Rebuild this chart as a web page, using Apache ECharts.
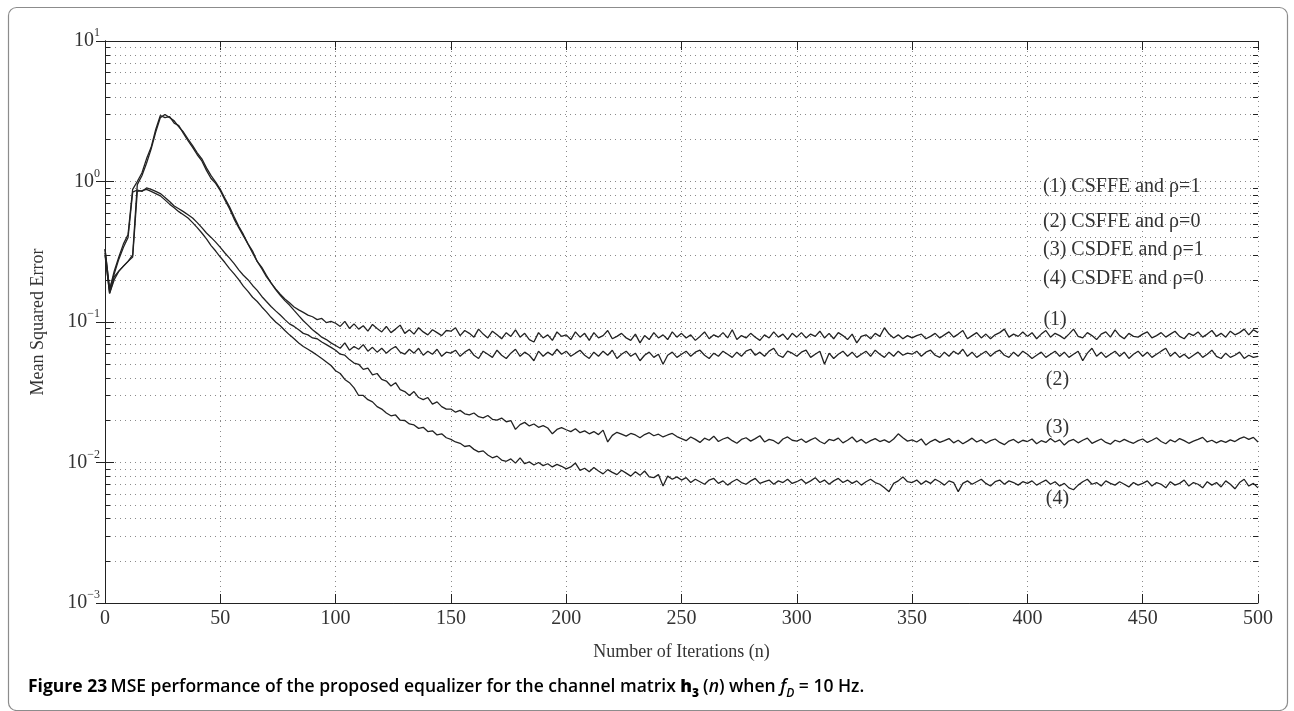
<!DOCTYPE html>
<html>
<head>
<meta charset="utf-8">
<script src="https://cdn.jsdelivr.net/npm/echarts@6/dist/echarts.min.js"></script>
<style>
html,body{margin:0;padding:0;background:#fff;}
#chart{width:1294px;height:711px;}
</style>
</head>
<body>
<div id="chart"></div>
<script>
// ---------- data ----------
const iterations = [
0,2,4,6,8,10,12,14,16,18,20,22,24,26,28,30,32,34,36,38,40,42,44,46,48,
50,52,54,56,58,60,62,64,66,68,70,72,74,76,78,80,82,84,86,88,90,92,94,96,98,
100,102,104,106,108,110,112,114,116,118,120,122,124,126,128,130,132,134,136,138,140,142,144,146,148,
150,152,154,156,158,160,162,164,166,168,170,172,174,176,178,180,182,184,186,188,190,192,194,196,198,
200,202,204,206,208,210,212,214,216,218,220,222,224,226,228,230,232,234,236,238,240,242,244,246,248,
250,252,254,256,258,260,262,264,266,268,270,272,274,276,278,280,282,284,286,288,290,292,294,296,298,
300,302,304,306,308,310,312,314,316,318,320,322,324,326,328,330,332,334,336,338,340,342,344,346,348,
350,352,354,356,358,360,362,364,366,368,370,372,374,376,378,380,382,384,386,388,390,392,394,396,398,
400,402,404,406,408,410,412,414,416,418,420,422,424,426,428,430,432,434,436,438,440,442,444,446,448,
450,452,454,456,458,460,462,464,466,468,470,472,474,476,478,480,482,484,486,488,490,492,494,496,498,
500];

const seriesNames = ['(1) CSFFE and ρ=1','(2) CSFFE and ρ=0','(3) CSDFE and ρ=1','(4) CSDFE and ρ=0'];
const curveTags = ['(1)','(2)','(3)','(4)'];

const mseCsffeRho1 = [
0.33,0.17,0.23,0.29,0.36,0.42,0.88,1.0,1.15,1.45,1.75,2.35,2.95,2.85,2.9,2.6,2.5,2.2,1.95,1.75,1.55,1.4,1.2,1.05,0.97,
0.86,0.74,0.64,0.54,0.47,0.41,0.36,0.32,0.27,0.245,0.215,0.19,0.172,0.158,0.146,0.137,0.128,0.122,0.117,0.112,0.109,0.104,0.106,0.099,0.101,
0.098,0.093,0.101,0.090,0.097,0.089,0.094,0.086,0.096,0.090,0.085,0.093,0.084,0.089,0.095,0.083,0.088,0.082,0.091,0.085,0.081,0.088,0.084,0.080,0.087,
0.086,0.091,0.080,0.087,0.083,0.078,0.089,0.082,0.077,0.086,0.081,0.076,0.084,0.079,0.088,0.078,0.083,0.075,0.072,0.084,0.077,0.081,0.074,0.085,0.079,
0.081,0.075,0.085,0.078,0.083,0.074,0.084,0.077,0.080,0.087,0.076,0.079,0.083,0.077,0.074,0.082,0.071,0.080,0.075,0.084,0.077,0.081,0.075,0.085,0.078,
0.083,0.077,0.081,0.074,0.079,0.085,0.076,0.081,0.078,0.084,0.077,0.088,0.075,0.080,0.077,0.083,0.078,0.074,0.081,0.077,0.085,0.078,0.082,0.075,0.083,
0.078,0.084,0.077,0.082,0.079,0.086,0.077,0.083,0.076,0.084,0.080,0.075,0.082,0.071,0.079,0.081,0.076,0.083,0.079,0.091,0.082,0.077,0.081,0.076,0.080,
0.077,0.080,0.082,0.076,0.079,0.083,0.077,0.081,0.085,0.078,0.082,0.087,0.076,0.080,0.084,0.077,0.082,0.076,0.081,0.084,0.089,0.078,0.082,0.079,0.085,
0.079,0.084,0.076,0.082,0.087,0.078,0.083,0.080,0.076,0.082,0.089,0.079,0.077,0.084,0.080,0.075,0.082,0.085,0.078,0.088,0.080,0.076,0.083,0.079,0.078,
0.082,0.085,0.077,0.080,0.084,0.078,0.082,0.086,0.079,0.076,0.083,0.080,0.085,0.078,0.082,0.087,0.079,0.083,0.078,0.086,0.081,0.084,0.089,0.081,0.088,
0.084];

const mseCsffeRho0 = [
0.30,0.16,0.21,0.23,0.25,0.27,0.30,0.95,1.1,1.35,1.70,2.25,2.85,3.0,2.85,2.7,2.45,2.25,2.0,1.8,1.6,1.45,1.25,1.1,0.99,
0.88,0.76,0.66,0.56,0.48,0.42,0.36,0.31,0.27,0.24,0.21,0.19,0.17,0.155,0.142,0.132,0.121,0.111,0.102,0.095,0.088,0.083,0.078,0.075,0.071,
0.068,0.065,0.071,0.063,0.067,0.064,0.069,0.062,0.066,0.061,0.065,0.060,0.064,0.067,0.061,0.059,0.064,0.060,0.065,0.058,0.062,0.059,0.064,0.057,0.061,
0.060,0.063,0.057,0.061,0.064,0.058,0.055,0.062,0.059,0.056,0.063,0.058,0.055,0.060,0.064,0.057,0.061,0.058,0.053,0.062,0.057,0.061,0.058,0.064,0.059,
0.062,0.057,0.060,0.063,0.058,0.055,0.061,0.057,0.062,0.058,0.063,0.055,0.059,0.062,0.057,0.060,0.053,0.058,0.061,0.056,0.059,0.050,0.058,0.061,0.056,
0.059,0.062,0.057,0.061,0.063,0.058,0.055,0.060,0.057,0.062,0.059,0.056,0.061,0.057,0.062,0.064,0.058,0.061,0.057,0.062,0.065,0.058,0.056,0.062,0.060,
0.057,0.061,0.063,0.056,0.059,0.062,0.050,0.060,0.055,0.059,0.062,0.057,0.061,0.056,0.059,0.062,0.057,0.063,0.059,0.056,0.061,0.057,0.062,0.058,0.060,
0.059,0.062,0.057,0.061,0.063,0.058,0.056,0.061,0.057,0.062,0.059,0.064,0.057,0.061,0.056,0.059,0.062,0.057,0.061,0.063,0.058,0.056,0.061,0.057,0.062,
0.059,0.055,0.058,0.061,0.056,0.059,0.062,0.057,0.061,0.056,0.059,0.062,0.053,0.060,0.065,0.057,0.061,0.056,0.059,0.062,0.057,0.061,0.055,0.059,0.062,
0.057,0.061,0.056,0.059,0.062,0.065,0.057,0.061,0.056,0.059,0.055,0.058,0.061,0.056,0.059,0.063,0.057,0.055,0.060,0.056,0.058,0.061,0.055,0.058,0.056,
0.057];

const mseCsdfeRho1 = [
0.33,0.17,0.22,0.28,0.34,0.40,0.84,0.87,0.85,0.90,0.88,0.85,0.82,0.77,0.72,0.67,0.64,0.61,0.58,0.55,0.51,0.47,0.43,0.40,0.37,
0.34,0.31,0.285,0.26,0.235,0.215,0.20,0.182,0.168,0.152,0.140,0.129,0.120,0.112,0.104,0.097,0.093,0.088,0.083,0.081,0.077,0.076,0.072,0.069,0.066,
0.063,0.059,0.058,0.054,0.051,0.050,0.046,0.047,0.042,0.043,0.039,0.038,0.035,0.037,0.033,0.032,0.030,0.032,0.029,0.028,0.029,0.026,0.027,0.025,0.024,
0.0240,0.0228,0.0235,0.0222,0.0218,0.0225,0.0212,0.0208,0.0216,0.0203,0.0200,0.0207,0.0195,0.0199,0.0172,0.0186,0.0193,0.0182,0.0188,0.0178,0.0183,0.0176,0.0160,0.0172,0.0177,
0.0171,0.0166,0.0174,0.0163,0.0168,0.0160,0.0166,0.0158,0.0170,0.0140,0.0156,0.0164,0.0159,0.0154,0.0161,0.0157,0.0150,0.0158,0.0163,0.0155,0.0159,0.0152,0.0157,0.0161,0.0153,
0.0148,0.0143,0.0152,0.0146,0.0139,0.0149,0.0144,0.0154,0.0141,0.0147,0.0151,0.0143,0.0137,0.0146,0.0150,0.0142,0.0148,0.0155,0.0140,0.0146,0.0143,0.0136,0.0147,0.0152,0.0144,
0.0142,0.0147,0.0139,0.0145,0.0150,0.0141,0.0136,0.0146,0.0143,0.0149,0.0138,0.0144,0.0152,0.0140,0.0146,0.0137,0.0143,0.0148,0.0141,0.0145,0.0139,0.0147,0.0160,0.0150,0.0142,
0.0145,0.0140,0.0147,0.0133,0.0141,0.0146,0.0139,0.0143,0.0148,0.0138,0.0144,0.0136,0.0142,0.0149,0.0140,0.0145,0.0137,0.0143,0.0147,0.0139,0.0134,0.0142,0.0146,0.0138,0.0144,
0.0141,0.0147,0.0136,0.0143,0.0139,0.0148,0.0140,0.0145,0.0133,0.0142,0.0146,0.0138,0.0144,0.0149,0.0137,0.0142,0.0147,0.0139,0.0135,0.0144,0.0140,0.0146,0.0141,0.0137,0.0143,
0.0147,0.0139,0.0144,0.0150,0.0141,0.0136,0.0145,0.0140,0.0148,0.0143,0.0137,0.0142,0.0146,0.0151,0.0140,0.0144,0.0138,0.0143,0.0139,0.0145,0.0141,0.0148,0.0152,0.0146,0.0151,
0.0140];

const mseCsdfeRho0 = [
0.31,0.16,0.20,0.23,0.25,0.27,0.29,0.85,0.86,0.88,0.85,0.82,0.79,0.74,0.69,0.65,0.61,0.58,0.55,0.51,0.47,0.43,0.39,0.35,0.32,
0.29,0.265,0.24,0.22,0.20,0.18,0.165,0.15,0.14,0.128,0.118,0.108,0.100,0.094,0.087,0.081,0.076,0.071,0.067,0.064,0.061,0.058,0.055,0.052,0.049,
0.045,0.043,0.039,0.037,0.034,0.030,0.030,0.028,0.027,0.025,0.024,0.0225,0.0215,0.0218,0.0200,0.0199,0.0188,0.0185,0.0175,0.0178,0.0166,0.0168,0.0157,0.0160,0.0150,
0.0146,0.0140,0.0137,0.0130,0.0132,0.0124,0.0119,0.0121,0.0113,0.0108,0.0111,0.0104,0.0102,0.0106,0.0099,0.0108,0.0098,0.0101,0.0096,0.0100,0.0095,0.0098,0.0093,0.0097,0.0094,
0.0090,0.0093,0.0099,0.0088,0.0091,0.0086,0.0092,0.0087,0.0083,0.0089,0.0085,0.0082,0.0088,0.0084,0.0080,0.0086,0.0081,0.0087,0.0079,0.0078,0.0082,0.0068,0.0080,0.0076,0.0079,
0.0075,0.0078,0.0072,0.0076,0.0073,0.0070,0.0075,0.0077,0.0071,0.0074,0.0069,0.0073,0.0076,0.0072,0.0070,0.0074,0.0077,0.0071,0.0073,0.0075,0.0070,0.0074,0.0072,0.0076,0.0071,
0.0073,0.0076,0.0071,0.0074,0.0078,0.0072,0.0075,0.0070,0.0074,0.0077,0.0072,0.0075,0.0071,0.0074,0.0069,0.0073,0.0076,0.0072,0.0070,0.0066,0.0062,0.0071,0.0074,0.0079,0.0073,
0.0072,0.0075,0.0070,0.0074,0.0071,0.0076,0.0073,0.0069,0.0074,0.0072,0.0062,0.0071,0.0074,0.0070,0.0073,0.0076,0.0071,0.0068,0.0073,0.0075,0.0070,0.0074,0.0072,0.0069,0.0073,
0.0071,0.0074,0.0069,0.0072,0.0075,0.0070,0.0073,0.0068,0.0071,0.0066,0.0064,0.0069,0.0073,0.0076,0.0070,0.0072,0.0068,0.0074,0.0071,0.0069,0.0073,0.0070,0.0067,0.0072,0.0069,
0.0071,0.0074,0.0068,0.0072,0.0070,0.0066,0.0073,0.0069,0.0071,0.0075,0.0068,0.0072,0.0070,0.0066,0.0073,0.0069,0.0072,0.0067,0.0074,0.0070,0.0065,0.0072,0.0076,0.0068,0.0071,
0.0066];

// positions (data coords) of the curve tags "(1)".."(4)"
const tagIteration = [412, 413, 413, 413];
const tagValue = [0.103, 0.0386, 0.0176, 0.0055];

// axis ticks
const xTicks = [0,50,100,150,200,250,300,350,400,450,500];
const yDecades = [0.001, 0.01, 0.1, 1, 10];
const minorMantissas = [2,3,4,5,6,7,8,9];

// ---------- chart ----------
const serif = '"Liberation Serif", "Times New Roman", serif';
const sans = '"Open Sans", "Noto Sans", sans-serif';
const ink = '#222';
const allSeries = [mseCsffeRho1, mseCsffeRho0, mseCsdfeRho1, mseCsdfeRho0];

const minorValues = [];
yDecades.slice(0, -1).forEach(d => minorMantissas.forEach(m => minorValues.push(+(m * d).toPrecision(3))));

const chart = echarts.init(document.getElementById('chart'), null, {renderer: 'canvas'});

const supText = e => (e < 0 ? '\u2212' + (-e) : String(e));

const lineSeries = allSeries.map((arr, i) => ({
  name: seriesNames[i],
  type: 'line',
  xAxisIndex: 0,
  yAxisIndex: 0,
  data: iterations.map((n, k) => [n, arr[k]]),
  showSymbol: false,
  symbol: 'none',
  lineStyle: {color: ink, width: 1.3},
  z: 5,
  silent: true,
  markPoint: {
    symbol: 'circle',
    symbolSize: 0,
    silent: true,
    label: {
      show: true,
      position: 'inside',
      formatter: curveTags[i],
      fontFamily: serif,
      fontSize: 20,
      color: '#333'
    },
    data: [{coord: [tagIteration[i], tagValue[i]]}]
  }
}));

const minorSeries = {
  type: 'custom',
  xAxisIndex: 0,
  yAxisIndex: 0,
  silent: true,
  z: 1,
  data: minorValues.map(v => [0, v]),
  encode: {x: 0, y: 1},
  renderItem: function (params, api) {
    const v = api.value(1);
    const p0 = api.coord([xTicks[0], v]);
    const p1 = api.coord([xTicks[xTicks.length - 1], v]);
    const y = Math.round(p0[1]) + 0.5;
    return {
      type: 'group',
      children: [
        {type: 'line', shape: {x1: p0[0], y1: y, x2: p1[0], y2: y},
         style: {stroke: '#8a8a8a', lineWidth: 1, lineDash: [1, 4]}},
        {type: 'line', shape: {x1: p0[0], y1: y, x2: p0[0] + 5, y2: y},
         style: {stroke: ink, lineWidth: 1}},
        {type: 'line', shape: {x1: p1[0] - 5, y1: y, x2: p1[0], y2: y},
         style: {stroke: ink, lineWidth: 1}}
      ]
    };
  }
};

const legendTops = [187, 222, 250, 279];

const option = {
  animation: false,
  backgroundColor: '#fff',
  grid: {left: 105, right: 36, top: 41, bottom: 108, containLabel: false},
  xAxis: [
    {
      type: 'value', min: 0, max: 500, interval: 50, position: 'bottom',
      name: 'Number of Iterations (n)', nameLocation: 'middle', nameGap: 40,
      nameTextStyle: {fontFamily: serif, fontSize: 18, color: '#333'},
      axisLine: {show: true, lineStyle: {color: ink, width: 1}},
      axisTick: {show: true, inside: true, length: 9, lineStyle: {color: ink}},
      axisLabel: {fontFamily: serif, fontSize: 20, color: '#333', margin: 6,
        formatter: v => String(v)},
      splitLine: {show: true, lineStyle: {color: '#8a8a8a', type: [1, 4], width: 1}}
    },
    {
      type: 'value', min: 0, max: 500, interval: 50, position: 'top',
      axisLine: {show: true, lineStyle: {color: ink, width: 1}},
      axisTick: {show: true, inside: true, length: 9, lineStyle: {color: ink}},
      axisLabel: {show: false},
      splitLine: {show: false}
    }
  ],
  yAxis: [
    {
      type: 'log', logBase: 10, min: yDecades[0], max: yDecades[yDecades.length - 1], position: 'left',
      name: 'Mean Squared Error', nameLocation: 'middle', nameGap: 58, nameRotate: 90,
      nameTextStyle: {fontFamily: serif, fontSize: 18, color: '#333'},
      axisLine: {show: true, lineStyle: {color: ink, width: 1}},
      axisTick: {show: true, inside: true, length: 9, lineStyle: {color: ink}},
      axisLabel: {
        showMinLabel: true, showMaxLabel: true, margin: 5,
        formatter: v => '{b|10}{s|' + supText(Math.round(Math.log10(v))) + '}',
        rich: {
          b: {fontFamily: serif, fontSize: 20, color: '#333', lineHeight: 28},
          s: {fontFamily: serif, fontSize: 12, color: '#333', lineHeight: 14, verticalAlign: 'top'}
        }
      },
      splitLine: {show: true, lineStyle: {color: '#8a8a8a', type: [1, 4], width: 1}}
    },
    {
      type: 'log', logBase: 10, min: yDecades[0], max: yDecades[yDecades.length - 1], position: 'right',
      axisLine: {show: true, lineStyle: {color: ink, width: 1}},
      axisTick: {show: true, inside: true, length: 9, lineStyle: {color: ink}},
      axisLabel: {show: false},
      splitLine: {show: false}
    }
  ],
  series: [minorSeries].concat(lineSeries),
  graphic: [
    {
      type: 'rect', silent: true, z: -10,
      shape: {x: 8.5, y: 7.5, width: 1279, height: 703, r: 8},
      style: {fill: 'none', stroke: '#8c8c8c', lineWidth: 1.2}
    }
  ].concat(seriesNames.map((t, i) => ({
    type: 'text', silent: true, z: 20,
    x: 1043, y: legendTops[i],
    style: {text: t, font: '20px ' + serif, fill: '#333',
      textVerticalAlign: 'middle', verticalAlign: 'middle', textAlign: 'left', align: 'left'}
  }))).concat([
    {
      type: 'text', silent: true, z: 20,
      x: 28, y: 687,
      style: {
        text: '{fb|Figure 23} {r|MSE performance of the proposed equalizer for the channel matrix }{hb|h}{hs|3}{r|(}{ri|n}{r|) when }{ri|f}{is|D}{r| = 10 Hz.}',
        textVerticalAlign: 'middle', verticalAlign: 'middle',
        rich: {
          fb: {fontFamily: sans, fontWeight: 700, fontSize: 17.5, color: '#111', lineHeight: 26},
          r: {fontFamily: sans, fontWeight: 600, fontSize: 17.5, color: '#111', lineHeight: 26},
          ri: {fontFamily: sans, fontWeight: 600, fontStyle: 'italic', fontSize: 17.5, color: '#111', lineHeight: 26},
          hb: {fontFamily: sans, fontWeight: 800, fontSize: 17.5, color: '#111', lineHeight: 26},
          hs: {fontFamily: sans, fontWeight: 800, fontSize: 12, color: '#111', lineHeight: 13, verticalAlign: 'bottom', padding: [0, 4, 0, 0]},
          is: {fontFamily: sans, fontWeight: 600, fontStyle: 'italic', fontSize: 12, color: '#111', lineHeight: 13, verticalAlign: 'bottom'}
        }
      }
    }
  ])
};

chart.setOption(option);
</script>
</body>
</html>
